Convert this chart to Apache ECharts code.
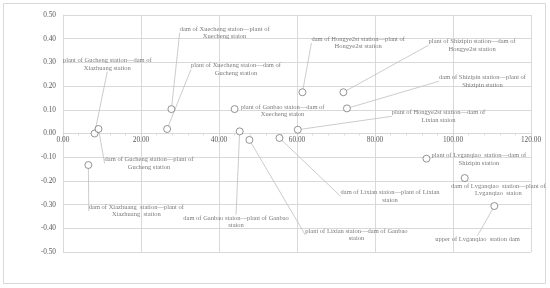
<!DOCTYPE html>
<html><head><meta charset="utf-8">
<script src="https://cdn.jsdelivr.net/npm/echarts@6/dist/echarts.min.js"></script>
<style>html,body{margin:0;padding:0;background:#fff}#c{width:550px;height:288px}</style>
</head><body><div id="c"></div>
<script>
// ---- data ----
const xValues = [8.1, 9.1, 27.8, 26.7, 44.0, 45.3, 47.8, 55.5, 60.2, 61.4, 71.9, 72.8, 93.2, 103.0, 110.6, 6.5];
const yValues = [0.00, 0.019, 0.103, 0.019, 0.103, 0.009, -0.027, -0.019, 0.016, 0.174, 0.174, 0.106, -0.106, -0.188, -0.306, -0.133];
const pointLabels = [
  'plant of Gucheng station\u2014dam of\nXiazhuang station',
  'dam of Gucheng station\u2014plant of\nGucheng station',
  'dam of Xuecheng staion\u2014plant of\nXuecheng staion',
  'plant of Xuecheng staion\u2014dam of\nGucheng station',
  'plant of Ganbao staion\u2014dam of\nXuecheng staion',
  'dam of Ganbao staion\u2014plant of Ganbao\nstaion',
  'plant of Lixian staion\u2014dam of Ganbao\nstaion',
  'dam of Lixian staion\u2014plant of Lixian\nstaion',
  'plant of Hongye2st station\u2014dam of\nLixian staion',
  'dam of Hongye2st station\u2014plant of\nHongye2st station',
  'plant of Shizipin station\u2014dam of\nHongye2st station',
  'dam of Shizipin station\u2014plant of\nShizipin station',
  'plant of Lvganqiao  station\u2014dam of\nShizipin station',
  'dam of Lvganqiao  station\u2014plant of\nLvganqiao  staion',
  'upper of Lvganqiao  station dam',
  'dam of Xiazhuang  station\u2014plant of\nXiazhuang  station'
];
const xTicks = [0, 20, 40, 60, 80, 100, 120];
const yTicks = [-0.5, -0.4, -0.3, -0.2, -0.1, 0, 0.1, 0.2, 0.3, 0.4, 0.5];

// ---- layout (label offsets in px from the point, leader line flag) ----
const labelOffsets = [
  [12.7, -69.3], [50.5, 34.3], [53.2, -76.3], [68.8, -59.7], [48, 1.5], [-3.6, 90.7],
  [107, 95], [110.6, 58.2], [140.7, -13.4], [55.7, -49.3], [128.7, -47.1], [135.6, -27.1],
  [52.4, 0.8], [33.7, 11.8], [-16.8, 33.3], [48, 46]
];
const leaderShown = [true, true, true, true, false, true, true, true, true, true, true, true, false, false, true, true];

const textColor = '#595959';
const gridColor = '#d9d9d9';
const serif = 'Liberation Serif';
const gridBox = { left: 63, right: 19, top: 15, bottom: 36 };
const plotH = 288 - gridBox.top - gridBox.bottom;
const yMin = yTicks[0], yMax = yTicks[yTicks.length - 1];
// place the x axis at y = 0 (as in the reference)
const xAxisOffset = -((0 - yMin) / (yMax - yMin)) * plotH;

const data = xValues.map((x, i) => ({
  value: [x, yValues[i]],
  name: pointLabels[i],
  labelLine: { show: leaderShown[i] }
}));

const chart = echarts.init(document.getElementById('c'), null, { renderer: 'canvas' });
chart.setOption({
  animation: false,
  backgroundColor: '#fff',
  graphic: [{
    type: 'rect', shape: { x: 3.5, y: 3.5, width: 542, height: 280 },
    style: { fill: 'none', stroke: gridColor, lineWidth: 1 }, z: -1
  }],
  grid: Object.assign({ containLabel: false }, gridBox),
  xAxis: {
    type: 'value', min: xTicks[0], max: xTicks[xTicks.length - 1], interval: xTicks[1] - xTicks[0],
    offset: xAxisOffset,
    axisLine: { show: true, onZero: false, lineStyle: { color: gridColor, width: 1 } },
    axisTick: { show: false },
    minorTick: { show: true, splitNumber: 5, length: 2, lineStyle: { color: gridColor } },
    splitLine: { show: true, lineStyle: { color: gridColor, width: 1 } },
    axisLabel: { color: textColor, fontFamily: serif, fontSize: 7.3, margin: 3,
      formatter: v => v.toFixed(2) }
  },
  yAxis: {
    type: 'value', min: yMin, max: yMax, interval: 0.1,
    axisLine: { show: true, onZero: false, lineStyle: { color: gridColor, width: 1 } },
    axisTick: { show: false },
    splitLine: { show: true, lineStyle: { color: gridColor, width: 1 } },
    axisLabel: { color: textColor, fontFamily: serif, fontSize: 7.3, margin: 7,
      formatter: v => v.toFixed(2) }
  },
  series: [{
    type: 'scatter',
    data: data,
    symbol: 'circle',
    symbolSize: 7,
    itemStyle: { color: '#fff', borderColor: '#595959', borderWidth: 0.8 },
    label: {
      show: true, position: 'inside', formatter: p => p.name,
      color: textColor, fontFamily: serif, fontSize: 6.5, lineHeight: 7.4, align: 'center'
    },
    labelLine: { show: true, lineStyle: { color: '#bfbfbf', width: 0.8 } },
    labelLayout: p => ({ dx: labelOffsets[p.dataIndex][0], dy: labelOffsets[p.dataIndex][1] })
  }]
});
</script>
</body></html>
